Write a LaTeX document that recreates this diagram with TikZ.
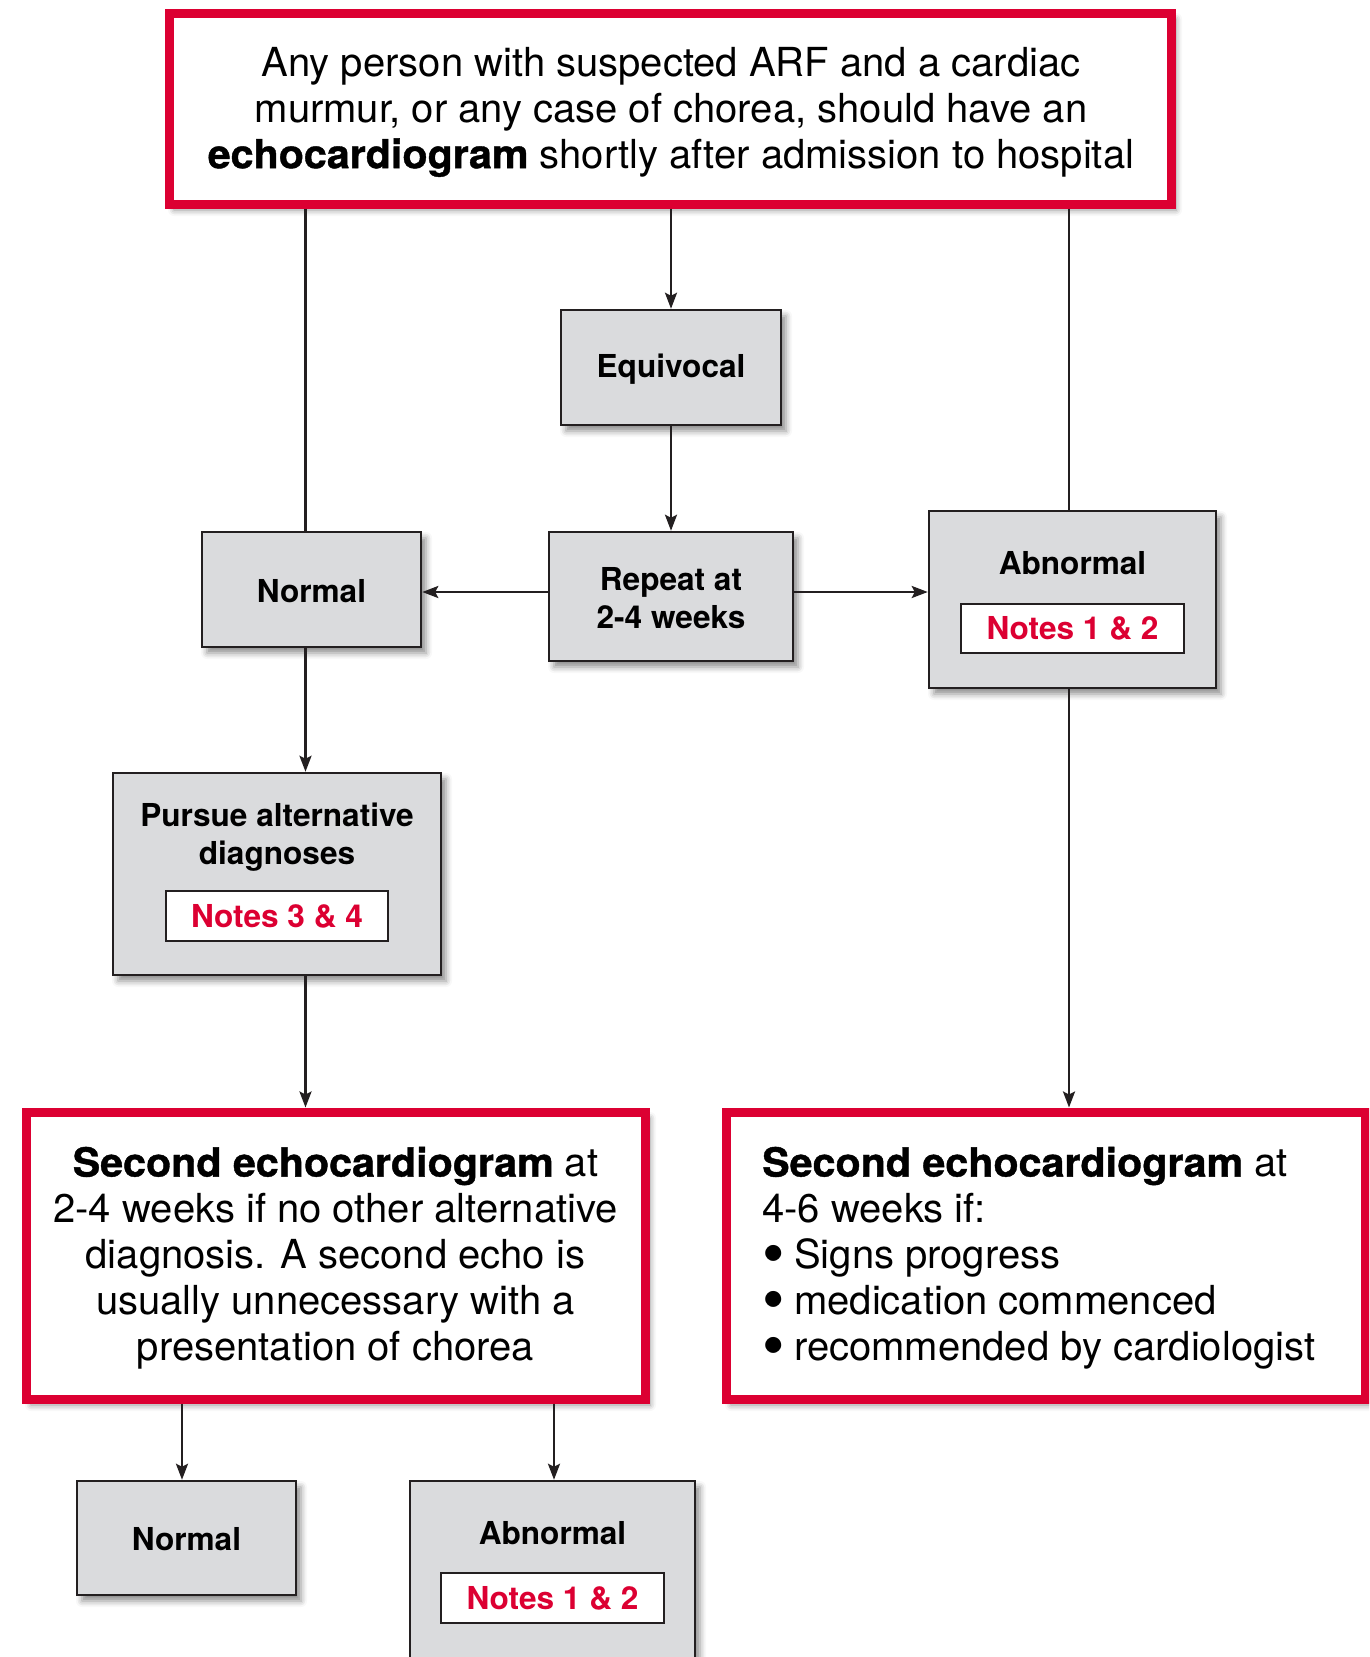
\documentclass[tikz,border=0pt]{standalone}
\usepackage{fontspec}
\setmainfont{TeX Gyre Heros}
\usetikzlibrary{arrows.meta,shadows.blur}
\definecolor{arfred}{RGB}{220,0,50}
\definecolor{boxgray}{RGB}{218,219,221}
\definecolor{edgecol}{RGB}{35,31,32}
\newcommand\bigtxt{\fontsize{40}{46}\selectfont}
\newcommand\boxtxt{\fontsize{31.6}{38}\selectfont\bfseries}
\newcommand\heavy[1]{{\bfseries\addfontfeature{FakeBold=1,FakeStretch=1.03}#1}}
\newcommand\bul{\makebox[0.8em][l]{\smash{\raisebox{-0.17em}{\scalebox{1.6}{\textbullet}}}}}
\tikzset{
  softshadow/.style={blur shadow={shadow xshift=5pt, shadow yshift=-6pt, shadow blur radius=6pt, shadow opacity=45}},
  redbox/.style={rectangle, draw=arfred, line width=9pt, fill=white, inner sep=0pt, softshadow},
  graybox/.style={rectangle, draw=edgecol, line width=2.5pt, fill=boxgray, inner sep=0pt, softshadow},
  notebox/.style={rectangle, draw=edgecol, line width=1.8pt, fill=white, inner sep=0pt, text=arfred, font=\boxtxt},
  boxlabel/.style={font=\boxtxt, align=center, text=black, inner sep=0pt},
  conn/.style={line width=2.5pt, draw=edgecol},
  arr/.style={conn, -{Stealth[length=16pt,width=12pt,inset=3pt]}}
}
\begin{document}
\begin{tikzpicture}[x=1pt,y=-1pt]
\path[use as bounding box] (0,0) rectangle (1369,1657);
\clip (0,0) rectangle (1369,1657);

% column coordinates
\coordinate (cL) at (305.5,0);
\coordinate (cM) at (671,0);
\coordinate (cR) at (1069,0);
\coordinate (rowR) at (0,592);
\coordinate (cB1) at (182,0);
\coordinate (cB2) at (554,0);

% boxes
\node[redbox, minimum width=1002pt, minimum height=191pt] (top) at (670,108.5) {};
\node[font=\bigtxt, align=center, inner sep=0pt] (toptxt) at (671,112)
  {Any person with suspected ARF and a cardiac\\
   murmur, or any case of chorea, should have an\\
   \heavy{echocardiogram} shortly after admission to hospital};

\node[graybox, minimum width=220pt, minimum height=115pt] (equiv) at (671,367.5) {};
\node[boxlabel] (equivtxt) at (671,369) {Equivocal};

\node[graybox, minimum width=244pt, minimum height=129pt] (repeat) at (671,596.5) {};
\node[boxlabel] (repeattxt) at (671,598) {Repeat at\\2-4 weeks};

\node[graybox, minimum width=219pt, minimum height=115pt] (normA) at (311.5,589.5) {};
\node[boxlabel] (normAtxt) at (311.5,591) {Normal};

\node[graybox, minimum width=287pt, minimum height=177pt] (abnA) at (1072.5,599.5) {};
\node[boxlabel] (abnAtxt) at (1072.5,563) {Abnormal};
\node[notebox, minimum width=223pt, minimum height=49pt] (notesA) at (1072.5,628.5) {Notes 1 \& 2};

\node[graybox, minimum width=328pt, minimum height=202pt] (pursue) at (277,874) {};
\node[boxlabel] (pursuetxt) at (277,837) {Pursue alternative\\diagnoses};
\node[notebox, minimum width=222pt, minimum height=50pt] (notesP) at (277,916) {Notes 3 \& 4};

\node[redbox, minimum width=619pt, minimum height=287pt] (secL) at (335.5,1255.5) {};
\node[font=\bigtxt, align=center, inner sep=0pt] (secLtxt) at (335.5,1258)
  {\heavy{Second echocardiogram} at\\
   2-4 weeks if no other alternative\\
   diagnosis. A second echo is\\
   usually unnecessary with a\\
   presentation of chorea};

\node[redbox, minimum width=639pt, minimum height=287pt] (secR) at (1045.5,1255.5) {};
\node[font=\bigtxt, align=left, inner sep=0pt, anchor=west] (secRtxt) at (762,1258)
  {\heavy{Second echocardiogram} at\\
   4-6 weeks if:\\
   \bul Signs progress\\
   \bul medication commenced\\
   \bul recommended by cardiologist};

\node[graybox, minimum width=219pt, minimum height=114pt] (normB) at (186.5,1538) {};
\node[boxlabel] (normBtxt) at (186.5,1539) {Normal};

\node[graybox, minimum width=285pt, minimum height=179pt] (abnB) at (552.5,1570.5) {};
\node[boxlabel] (abnBtxt) at (552.5,1533) {Abnormal};
\node[notebox, minimum width=223pt, minimum height=50pt] (notesB) at (552.5,1598) {Notes 1 \& 2};

% connectors
\draw[conn] (top.south -| cL) -- (normA.north -| cL);
\draw[arr] (top.south -| cM) -- (equiv.north -| cM);
\draw[conn] (top.south -| cR) -- (abnA.north -| cR);
\draw[arr] (equiv.south -| cM) -- (repeat.north -| cM);
\draw[arr] (repeat.west |- rowR) -- (normA.east |- rowR);
\draw[arr] (repeat.east |- rowR) -- (abnA.west |- rowR);
\draw[arr] (normA.south -| cL) -- (pursue.north -| cL);
\draw[arr] (pursue.south -| cL) -- (secL.north -| cL);
\draw[arr] (abnA.south -| cR) -- (secR.north -| cR);
\draw[arr] (secL.south -| cB1) -- (normB.north -| cB1);
\draw[arr] (secL.south -| cB2) -- (abnB.north -| cB2);
\end{tikzpicture}
\end{document}
